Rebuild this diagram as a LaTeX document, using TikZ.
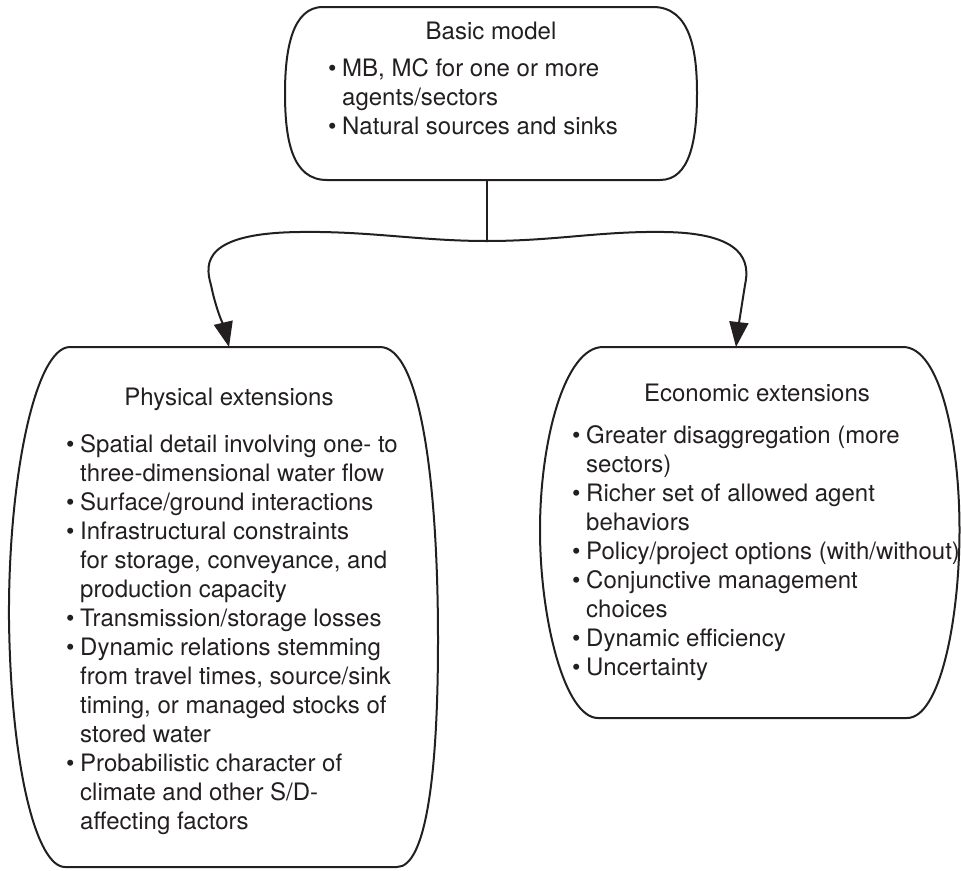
\documentclass[tikz,border=0pt]{standalone}
\usepackage{fontspec}
\setmainfont{TeX Gyre Heros}
\usetikzlibrary{arrows.meta}
\definecolor{ink}{RGB}{35,31,32}
% bullet with a fixed hanging indent, and the matching indent for continued lines
\newcommand\bul{\makebox[14pt][l]{\textbullet}}
\newcommand\ind{\hspace*{14pt}}
\newcommand\firstline{\rule{0pt}{18pt}}

\begin{document}
\begin{tikzpicture}[x=1pt,y=-1pt,
  frame/.style={draw=ink,line width=2pt},
  link/.style={draw=ink,line width=2pt},
  arrowlink/.style={link,-{Triangle[length=25pt,width=19pt]}},
  heading/.style={text=ink,font=\fontsize{24}{29}\selectfont,inner sep=0pt,anchor=base},
  items/.style={text=ink,font=\fontsize{24}{29}\selectfont,inner sep=0pt,anchor=north west,align=left}]
\useasboundingbox (0,0) rectangle (961,870);

% --- outlines of the three boxes ---
\draw[frame] (323,7) -- (653,7)
  .. controls (690,7) and (697,50) .. (697,93)
  .. controls (697,140) and (690,180) .. (660,180)
  -- (327,180)
  .. controls (292,180) and (285,140) .. (285,93)
  .. controls (285,50) and (292,7) .. cycle;

\draw[frame] (70,347) -- (380,347)
  .. controls (420,347) and (438,480) .. (438,640)
  .. controls (438,780) and (425,867) .. (397,867)
  -- (65,867)
  .. controls (37,867) and (11,770) .. (9,620)
  .. controls (8,480) and (35,347) .. cycle;

\draw[frame] (603,347) -- (903,347)
  .. controls (940,347) and (959.5,440) .. (959.5,530)
  .. controls (959.5,620) and (940,718) .. (907,718)
  -- (598,718)
  .. controls (565,718) and (540,620) .. (540,530)
  .. controls (540,440) and (565,347) .. cycle;

% --- headings ---
\node[heading] (basic-title) at (491,39) {Basic model};
\node[heading] (phys-title) at (229,405) {Physical extensions};
\node[heading] (econ-title) at (757,401) {Economic extensions};

% --- bullet lists ---
\node[items] (basic-list) at (328,58) {\firstline\bul MB, MC for one or more\\
\ind agents/sectors\\
\bul Natural sources and sinks};

\node[items] (phys-list) at (66,434) {\firstline\bul Spatial detail involving one- to\\
\ind three-dimensional water flow\\
\bul Surface/ground interactions\\
\bul Infrastructural constraints\\
\ind for storage, conveyance, and\\
\ind production capacity\\
\bul Transmission/storage losses\\
\bul Dynamic relations stemming\\
\ind from travel times, source/sink\\
\ind timing, or managed stocks of\\
\ind stored water\\
\bul Probabilistic character of\\
\ind climate and other S/D-\\
\ind affecting factors};

\node[items] (econ-list) at (572,425) {\firstline\bul Greater disaggregation (more\\
\ind sectors)\\
\bul Richer set of allowed agent\\
\ind behaviors\\
\bul Policy/project options (with/without)\\
\bul Conjunctive management\\
\ind choices\\
\bul Dynamic efficiency\\
\bul Uncertainty};

% --- connectors ---
\coordinate (basic-south) at (487,180);
\coordinate (fork) at (487,241);
\coordinate (phys-in) at (229,347);
\coordinate (econ-in) at (736,347);

\draw[link] (basic-south) -- (fork);
\draw[arrowlink] (fork)
  .. controls (420,241) and (370,231) .. (300,232)
  .. controls (205,233) and (204,262) .. (211,285)
  .. controls (216,310) and (225,330) .. (phys-in);
\draw[arrowlink] (fork)
  .. controls (555,241) and (600,231) .. (664,232)
  .. controls (745,233) and (750,262) .. (745,285)
  .. controls (741,310) and (738,330) .. (econ-in);
\end{tikzpicture}
\end{document}
